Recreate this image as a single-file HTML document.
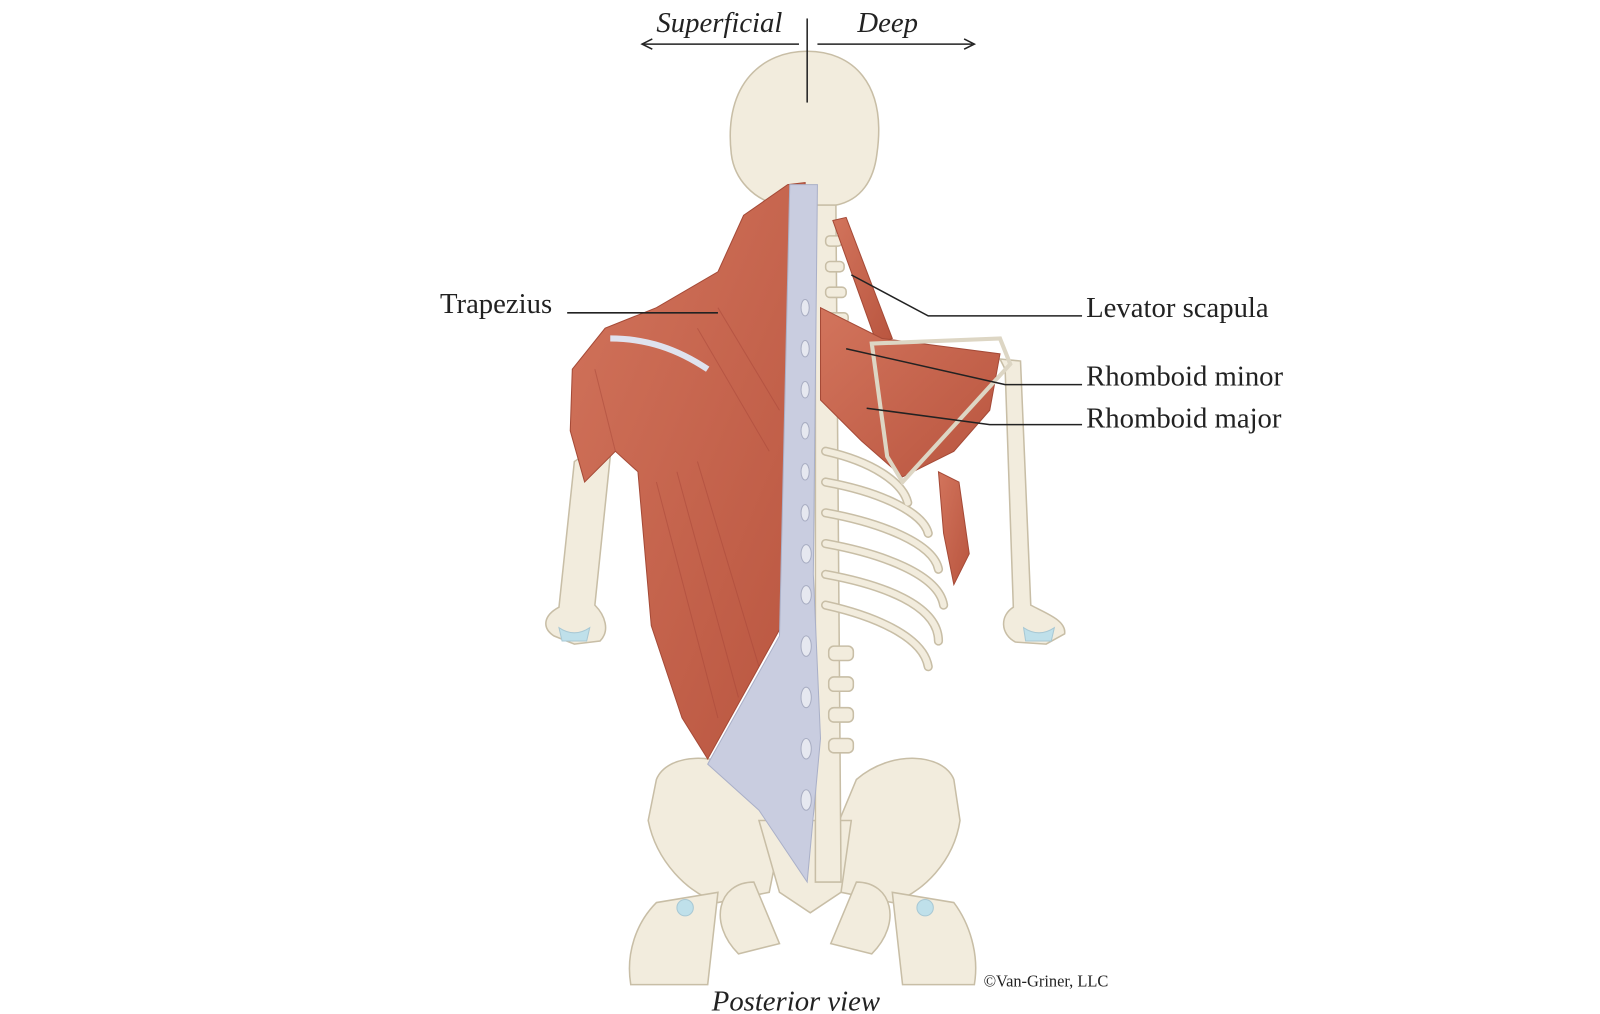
<!DOCTYPE html>
<html><head><meta charset="utf-8"><style>
html,body{margin:0;padding:0;background:#fff;}
svg{display:block;}
.t{font-family:"Liberation Serif",serif;fill:#222;}
</style></head><body>
<svg width="1600" height="1014" viewBox="0 0 1600 1014" xmlns="http://www.w3.org/2000/svg">
<defs>
<linearGradient id="mus" x1="0" y1="0" x2="1" y2="1">
<stop offset="0" stop-color="#d2745c"/><stop offset="1" stop-color="#b9553f"/>
</linearGradient>
</defs>
<g transform="scale(1.02564)">
<g stroke="#c8bea6" stroke-width="1.5" fill="#f2ecdd">
<!-- skull -->
<path d="M713,150 C705,80 745,50 787,50 C830,50 865,80 855,150 C852,175 840,195 815,200 L760,200 C735,195 716,175 713,150 Z"/>
<!-- arms -->
<path d="M575,440 L595,445 L580,590 C590,600 595,615 585,625 L560,628 L540,620 C528,612 530,600 545,592 L560,450 Z"/>
<path d="M975,350 L995,352 L1005,590 C1020,598 1040,605 1038,618 L1020,628 L990,626 C975,618 975,600 988,592 L980,360 Z"/>
<!-- pelvis -->
<path d="M640,760 C650,735 700,730 735,760 L760,820 L750,870 L700,880 C670,870 640,840 632,800 Z"/>
<path d="M930,760 C920,735 870,730 835,760 L810,820 L820,870 L870,880 C900,870 930,840 936,800 Z"/>
<path d="M740,800 L830,800 L820,870 L790,890 L760,870 Z"/>
<path d="M735,860 C700,860 690,900 720,930 L760,920 Z"/>
<path d="M835,860 C870,860 880,900 850,930 L810,920 Z"/>
<path d="M640,880 L700,870 L690,960 L615,960 C610,930 620,900 640,880Z"/>
<path d="M930,880 L870,870 L880,960 L950,960 C955,930 945,900 930,880Z"/>
<!-- spine right -->
<path d="M795,200 L815,200 L820,860 L795,860 Z"/>
</g>
<g fill="#bfe0ea" stroke="#a8c8d4">
<path d="M545,612 Q560,622 575,612 L572,625 L548,625 Z"/>
<path d="M998,612 Q1013,622 1028,612 L1025,625 L1000,625 Z"/>
<circle cx="668" cy="885" r="8"/><circle cx="902" cy="885" r="8"/>
</g>
<g fill="none" stroke="#c8bea6" stroke-width="9" stroke-linecap="round">
<path d="M805,440 C850,450 880,470 885,490"/>
<path d="M805,470 C860,480 900,500 905,520"/>
<path d="M805,500 C860,510 910,530 915,555"/>
<path d="M805,530 C860,540 915,560 920,590"/>
<path d="M805,560 C860,570 915,590 915,625"/>
<path d="M805,590 C850,600 900,620 905,650"/>
</g>
<g fill="none" stroke="#f2ecdd" stroke-width="6" stroke-linecap="round">
<path d="M805,440 C850,450 880,470 885,490"/>
<path d="M805,470 C860,480 900,500 905,520"/>
<path d="M805,500 C860,510 910,530 915,555"/>
<path d="M805,530 C860,540 915,560 920,590"/>
<path d="M805,560 C860,570 915,590 915,625"/>
<path d="M805,590 C850,600 900,620 905,650"/>
</g>
<g fill="#f2ecdd" stroke="#c8bea6" stroke-width="1.5">
<rect x="808" y="630" width="24" height="14" rx="5"/><rect x="808" y="660" width="24" height="14" rx="5"/>
<rect x="808" y="690" width="24" height="14" rx="5"/><rect x="808" y="720" width="24" height="14" rx="5"/>
<rect x="805" y="230" width="16" height="10" rx="4"/><rect x="805" y="255" width="18" height="10" rx="4"/>
<rect x="805" y="280" width="20" height="10" rx="4"/><rect x="805" y="305" width="22" height="10" rx="4"/>
</g>
<!-- left muscles -->
<path d="M768,180 L785,178 L790,560 L690,740 L665,700 L635,610 L622,460 L600,440 L570,470 L556,420 L558,360 L590,320 L640,300 L700,265 L725,210 Z" fill="url(#mus)" stroke="#a54a37" stroke-width="1"/>
<g stroke="#a8473a" stroke-width="1" opacity="0.5" fill="none">
<path d="M640,470 L700,700"/><path d="M660,460 L720,680"/><path d="M680,450 L740,650"/>
<path d="M700,300 L760,400"/><path d="M680,320 L750,440"/><path d="M580,360 L600,440"/>
</g>
<!-- fascia -->
<path d="M770,180 L797,180 L793,560 L800,720 L787,860 L740,790 L690,745 L760,620 Z" fill="#c9cde0" stroke="#aab0c8" stroke-width="1"/>
<g fill="#e6e8f0" stroke="#a8adc2" stroke-width="1">
<ellipse cx="785" cy="300" rx="4" ry="8"/><ellipse cx="785" cy="340" rx="4" ry="8"/><ellipse cx="785" cy="380" rx="4" ry="8"/>
<ellipse cx="785" cy="420" rx="4" ry="8"/><ellipse cx="785" cy="460" rx="4" ry="8"/><ellipse cx="785" cy="500" rx="4" ry="8"/>
<ellipse cx="786" cy="540" rx="5" ry="9"/><ellipse cx="786" cy="580" rx="5" ry="9"/><ellipse cx="786" cy="630" rx="5" ry="10"/>
<ellipse cx="786" cy="680" rx="5" ry="10"/><ellipse cx="786" cy="730" rx="5" ry="10"/><ellipse cx="786" cy="780" rx="5" ry="10"/>
</g>
<path d="M595,330 C630,330 660,340 690,360" fill="none" stroke="#dfe2ee" stroke-width="6"/>
<!-- right muscles -->
<path d="M812,215 L825,212 L870,330 L855,335 Z" fill="url(#mus)" stroke="#a54a37"/>
<path d="M800,300 L860,330 L975,345 L965,400 L930,440 L880,465 L840,430 L800,390 Z" fill="url(#mus)" stroke="#a54a37"/>
<path d="M915,460 L935,470 L945,540 L930,570 L920,520 Z" fill="url(#mus)" stroke="#a54a37"/>
<path d="M850,335 L975,330 L985,355 L880,470 L865,445 Z" fill="none" stroke="#ddd6c4" stroke-width="4"/>
<!-- labels -->
<g stroke="#222" stroke-width="1.5" fill="none">
<line x1="787" y1="18" x2="787" y2="100"/>
<line x1="779" y1="43" x2="628" y2="43"/><path d="M636,38 L626,43 L636,48"/>
<line x1="797" y1="43" x2="948" y2="43"/><path d="M940,38 L950,43 L940,48"/>
<line x1="553" y1="305" x2="700" y2="305"/>
<path d="M830,268 L905,308 L1055,308"/>
<path d="M825,340 L980,375 L1055,375"/>
<path d="M845,398 L965,414 L1055,414"/>
</g>
<text class="t" x="640" y="31" font-size="28" font-style="italic">Superficial</text>
<text class="t" x="836" y="31" font-size="28" font-style="italic">Deep</text>
<text class="t" x="429" y="305" font-size="28">Trapezius</text>
<text class="t" x="1059" y="309" font-size="28">Levator scapula</text>
<text class="t" x="1059" y="376" font-size="28">Rhomboid minor</text>
<text class="t" x="1059" y="417" font-size="28">Rhomboid major</text>
<text class="t" x="694" y="985" font-size="28" font-style="italic">Posterior view</text>
<text class="t" x="959" y="962" font-size="16">©Van-Griner, LLC</text>
</g>
</svg>
</body></html>
